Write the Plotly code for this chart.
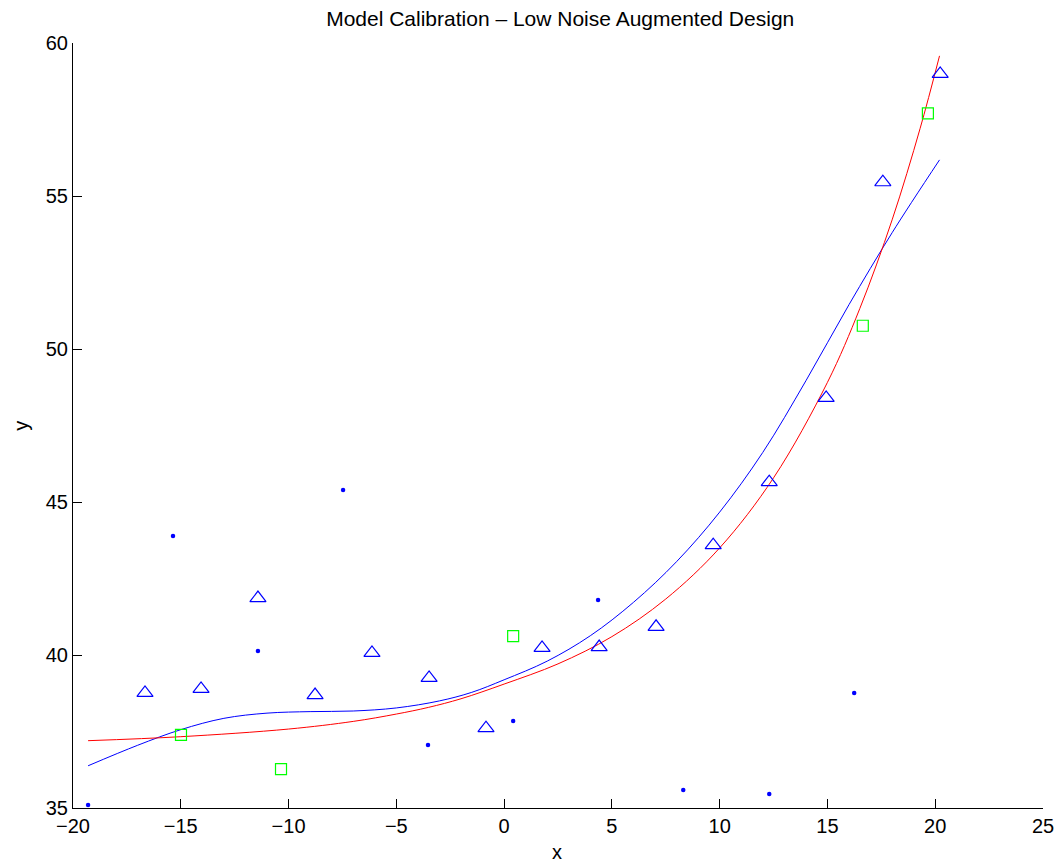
import plotly.graph_objects as go

# Design points (triangles), augmented points (squares), noisy checks (dots)
tri_x = [-16.66, -14.06, -11.42, -8.77, -6.13, -3.48, -0.84, 1.76, 4.41, 7.05, 9.70, 12.30, 14.94, 17.57, 20.23]
tri_y = [38.76, 38.89, 41.86, 38.69, 40.07, 39.25, 37.61, 40.23, 40.26, 40.92, 43.59, 45.65, 48.40, 55.45, 58.99]

sq_x = [-14.99, -10.35, 0.42, 16.64, 19.66]
sq_y = [37.39, 36.27, 40.62, 50.76, 57.70]

dot_x = [-19.30, -15.36, -11.42, -7.47, -3.53, 0.42, 4.36, 8.31, 12.30, 16.24]
dot_y = [35.10, 43.89, 40.13, 45.39, 37.06, 37.84, 41.80, 35.59, 35.46, 38.76]

# Smooth model fit (blue)
fit_x = [-19.3, -17.0, -15.0, -13.0, -11.0, -9.0, -7.0, -5.0, -3.0, -1.5, 0.0,
         2.0, 4.0, 6.0, 8.0, 10.0, 12.0, 14.0, 16.0, 18.0, 20.2]
fit_y = [36.38, 37.05, 37.56, 37.93, 38.10, 38.15, 38.17, 38.27, 38.50, 38.78, 39.19,
         39.80, 40.63, 41.72, 43.05, 44.67, 46.62, 48.96, 51.45, 53.80, 56.18]

# Calibrated model (red)
cal_x = [-19.3, -15.0, -10.0, -7.0, -5.0, -3.5, -2.0, 0.0, 2.5, 5.0, 7.5, 10.0,
         12.5, 15.0, 16.5, 18.0, 19.3, 20.2]
cal_y = [37.20, 37.33, 37.58, 37.83, 38.07, 38.29, 38.57, 39.05, 39.71, 40.60, 41.83, 43.50,
         45.79, 48.91, 51.32, 54.22, 57.21, 59.58]

x_ticks = [-20, -15, -10, -5, 0, 5, 10, 15, 20, 25]
y_ticks = [35, 40, 45, 50, 55, 60]

FONT = "Liberation Sans, Arial, Helvetica, sans-serif"

fig = go.Figure()

fig.add_trace(go.Scatter(x=fit_x, y=fit_y, mode="lines",
                         line=dict(color="#0000FF", width=1, shape="spline", smoothing=1.0),
                         showlegend=False))
fig.add_trace(go.Scatter(x=cal_x, y=cal_y, mode="lines",
                         line=dict(color="#FF0000", width=1, shape="spline", smoothing=1.0),
                         showlegend=False))
fig.add_trace(go.Scatter(x=tri_x, y=tri_y, mode="markers",
                         marker=dict(symbol="triangle-up-open", size=14, color="#0000FF",
                                     line=dict(color="#0000FF", width=1.2)),
                         showlegend=False))
fig.add_trace(go.Scatter(x=sq_x, y=sq_y, mode="markers",
                         marker=dict(symbol="square-open", size=11, color="#00FF00",
                                     line=dict(color="#00FF00", width=1.2)),
                         showlegend=False))
fig.add_trace(go.Scatter(x=dot_x, y=dot_y, mode="markers",
                         marker=dict(symbol="circle", size=4.5, color="#0000FF"),
                         showlegend=False))

fig.update_layout(
    width=1060, height=866, autosize=False,
    paper_bgcolor="white", plot_bgcolor="white",
    margin=dict(l=73, r=17, t=43, b=58, autoexpand=False),
    font=dict(family=FONT, size=20, color="black"),
    title=dict(text="Model Calibration \u2013 Low Noise Augmented Design",
               x=0.5285, xanchor="center", y=0.979, yanchor="middle",
               font=dict(family=FONT, size=21, color="black")),
    annotations=[
        dict(text="x", xref="paper", yref="paper", x=0.499, y=-0.058,
             xanchor="center", yanchor="middle", showarrow=False,
             font=dict(family=FONT, size=20, color="black")),
        dict(text="y", xref="paper", yref="paper", x=-0.053, y=0.499, textangle=-90,
             xanchor="center", yanchor="middle", showarrow=False,
             font=dict(family=FONT, size=20, color="black")),
    ],
)

fig.update_xaxes(
    range=[-20, 25], tickvals=x_ticks, ticks="inside", ticklen=9, tickcolor="black",
    showline=True, linecolor="black", linewidth=1, mirror=False,
    showgrid=False, zeroline=False, automargin=False,
    tickfont=dict(family=FONT, size=20, color="black"),
)
fig.update_yaxes(
    range=[35, 60], tickvals=y_ticks, ticks="inside", ticklen=9, tickcolor="black",
    showline=True, linecolor="black", linewidth=1, mirror=False,
    showgrid=False, zeroline=False, automargin=False,
    tickfont=dict(family=FONT, size=20, color="black"),
)

fig.write_html("out.html")
